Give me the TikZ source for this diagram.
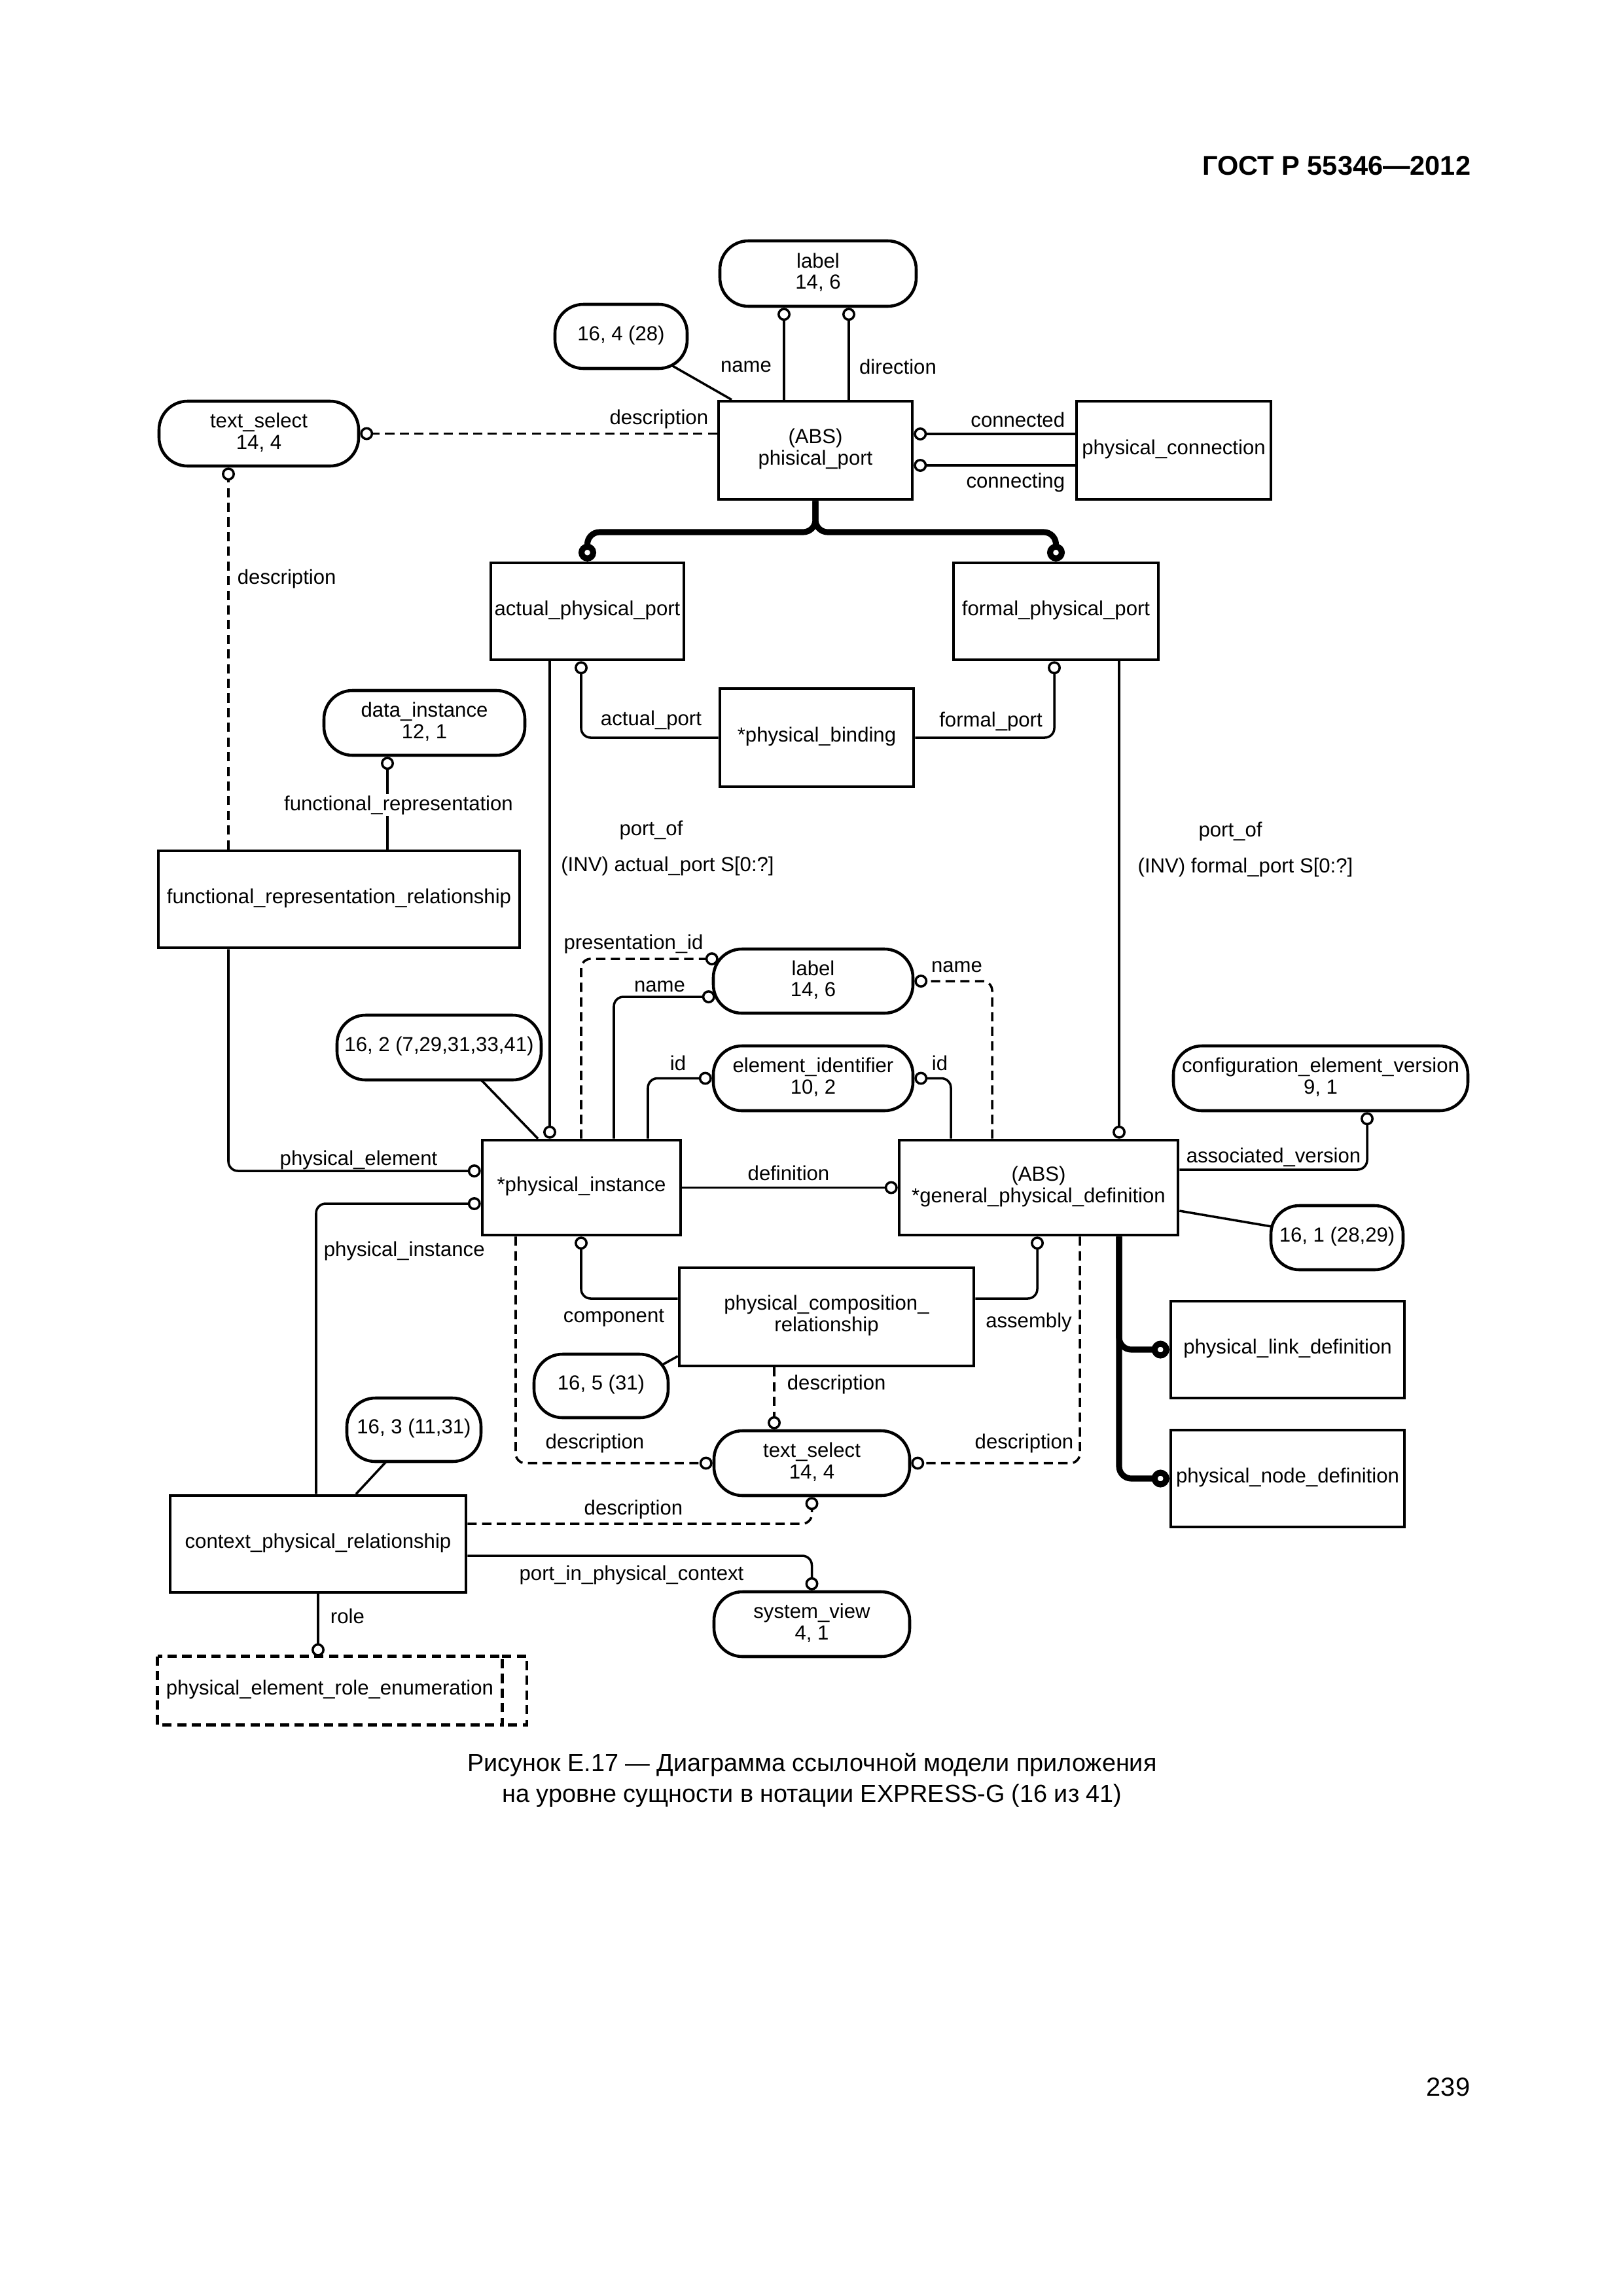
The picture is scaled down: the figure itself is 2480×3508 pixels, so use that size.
\documentclass[tikz,border=0pt]{standalone}
\usepackage{fontspec}
\setmainfont{Liberation Sans}
\usetikzlibrary{arrows.meta,calc,backgrounds,fit}
\newcommand{\dfont}{\fontsize{7.5}{7.9}\selectfont}
\newcommand{\lo}[1]{\raisebox{-2.3pt}[\height][\depth]{#1}}
\begin{document}
\begin{tikzpicture}[x=0.2409pt,y=-0.2409pt,
  ent/.style={draw, line width=1.1pt, fill=white, inner sep=0pt, align=center, font=\dfont},
  rnd/.style={ent, rounded corners=10.5pt},
  lab/.style={font=\dfont, inner sep=0.5pt},
  rel/.style={line width=0.85pt, -{Circle[open,length=4.8pt]}},
  relD/.style={rel, dash pattern=on 3.4pt off 2pt},
  ln/.style={line width=0.85pt},
  sub/.style={line width=2.2pt, -{Circle[open,length=6.5pt]}, rounded corners=4.5pt},
  rcorner/.style={rounded corners=3.5pt},
  dbox/.style={line width=1.1pt, dash pattern=on 3.4pt off 2pt}]
\useasboundingbox (0,0) rectangle (2480,3508);

% ---------- nodes ----------
\node[rnd, fit={(1100,368) (1400,468)}] (lbl1) {\lo{label}\\\lo{14, 6}};
\node[rnd, fit={(848,465) (1050,563)}] (r164) {\lo{16, 4 (28)}};
\node[rnd, fit={(243,613) (548,712)}] (ts1) {\lo{text\_select}\\\lo{14, 4}};
\node[ent, fit={(1098,613) (1394,763)}] (pp) {\lo{(ABS)}\\\lo{phisical\_port}};
\node[ent, fit={(1645,613) (1942,763)}] (pc) {\lo{physical\_connection}};
\node[ent, fit={(750,860) (1045,1008)}] (app) {\lo{actual\_physical\_port}};
\node[ent, fit={(1457,860) (1770,1008)}] (fpp) {\lo{formal\_physical\_port}};
\node[ent, fit={(1100,1052) (1396,1202)}] (pb) {\lo{*physical\_binding}};
\node[rnd, fit={(495,1055) (802,1154)}] (di) {\lo{data\_instance}\\\lo{12, 1}};
\node[ent, fit={(242,1300) (794,1448)}] (frr) {\lo{functional\_representation\_relationship}};
\node[rnd, fit={(1090,1450) (1395,1548)}] (lbl2) {\lo{label}\\\lo{14, 6}};
\node[rnd, fit={(1090,1598) (1395,1697)}] (ei) {\lo{element\_identifier}\\\lo{10, 2}};
\node[rnd, fit={(515,1551) (827,1650)}] (r162) {\lo{16, 2 (7,29,31,33,41)}};
\node[rnd, fit={(1793,1598) (2243,1697)}] (cev) {\lo{configuration\_element\_version}\\\lo{9, 1}};
\node[ent, fit={(737,1742) (1040,1887)}] (pi) {\lo{*physical\_instance}};
\node[ent, fit={(1374,1742) (1800,1887)}] (gpd) {\lo{(ABS)}\\\lo{*general\_physical\_definition}};
\node[rnd, fit={(1942,1842) (2144,1940)}] (r161) {\lo{16, 1 (28,29)}};
\node[ent, fit={(1038,1937) (1488,2087)}] (pcr) {\lo{physical\_composition\_}\\\lo{relationship}};
\node[ent, fit={(1789,1988) (2146,2136)}] (pld) {\lo{physical\_link\_definition}};
\node[ent, fit={(1789,2185) (2146,2333)}] (pnd) {\lo{physical\_node\_definition}};
\node[rnd, fit={(816,2069) (1021,2166)}] (r165) {\lo{16, 5 (31)}};
\node[rnd, fit={(1091,2186) (1390,2285)}] (ts2) {\lo{text\_select}\\\lo{14, 4}};
\node[rnd, fit={(530,2136) (735,2233)}] (r163) {\lo{16, 3 (11,31)}};
\node[ent, fit={(260,2285) (712,2433)}] (cpr) {\lo{context\_physical\_relationship}};
\node[rnd, fit={(1091,2432) (1390,2531)}] (sv) {\lo{system\_view}\\\lo{4, 1}};
\node[ent, draw=none, fit={(243,2533) (765,2633)}] (pere) {\lo{physical\_element\_role\_enumeration}};
\draw[dbox] (pere.north west) rectangle (pere.south east);
\draw[dbox] (pere.north east) -| (805,0 |- pere.south) -- (pere.south east);

% ---------- connectors ----------
\begin{pgfonlayer}{background}
\fill[white] (0,0) rectangle (2480,3508);
\draw[rel] (1198,0 |- pp.north) -- (1198,0 |- lbl1.south);
\draw[rel] (1297,0 |- pp.north) -- (1297,0 |- lbl1.south);
\draw[ln] (r164.center) -- (1118,0 |- pp.north);
\draw[relD] (pp.west |- ts1.east) -- (ts1.east);
\draw[rel] (pc.west |- 0,663) -- (pp.east |- 0,663);
\draw[rel] (pc.west |- 0,711) -- (pp.east |- 0,711);
\draw[sub] (pp.south) |- (app.north |- 0,813) -- (app.north);
\draw[sub] (pp.south) |- (fpp.north |- 0,813) -- (fpp.north);
\draw[relD] (349,0 |- frr.north) -- (349,0 |- ts1.south);
\draw[rel] (592,0 |- frr.north) -- (592,0 |- di.south);
\draw[rel, rcorner] (349,0 |- frr.south) |- (pi.west |- 0,1789);
\draw[rel, rcorner] (483,0 |- cpr.north) |- (pi.west |- 0,1839);
\draw[rel] (840,0 |- app.south) -- (840,0 |- pi.north);
\draw[ln] ($(r162.center)+(29,13)$) -- (822,0 |- pi.north);
\draw[rel, rcorner] (pb.west) -| (888,0 |- app.south);
\draw[rel, rcorner] (pb.east) -| (1611,0 |- fpp.south);
\draw[rel] (1710,0 |- fpp.south) -- (1710,0 |- gpd.north);
\draw[relD, rcorner] (888,0 |- pi.north) |- ($(lbl2.west)+(10,-34)$);
\draw[rel, rcorner] (938,0 |- pi.north) |- ($(lbl2.west)+(5,24)$);
\draw[relD, rcorner] (1516,0 |- gpd.north) |- (lbl2.east);
\draw[rel, rcorner] (990,0 |- pi.north) |- (ei.west);
\draw[rel, rcorner] (1453,0 |- gpd.north) |- (ei.east);
\draw[rel] (pi.east) -- (gpd.west);
\draw[rel, rcorner] (gpd.east |- 0,1787) -| (2089,0 |- cev.south);
\draw[ln] (gpd.east |- 0,1850) -- (r161.center);
\draw[sub] (1710,0 |- gpd.south) |- (pld.west);
\draw[sub] (1710,0 |- gpd.south) |- (pnd.west);
\draw[rel, rcorner] (pcr.west |- 0,1984) -| (888,0 |- pi.south);
\draw[rel, rcorner] (pcr.east |- 0,1984) -| (1585,0 |- gpd.south);
\draw[ln] ($(r165.center)+(32,2)$) -- (pcr.west |- 0,2072);
\draw[relD] (1183,0 |- pcr.south) -- (1183,0 |- ts2.north);
\draw[relD, rcorner] (788,0 |- pi.south) |- (ts2.west);
\draw[relD, rcorner] (1650,0 |- gpd.south) |- (ts2.east);
\draw[relD, rcorner] (cpr.east |- 0,2328) -| (ts2.south);
\draw[rel, rcorner] (cpr.east |- 0,2377) -| (sv.north);
\draw[ln] ($(r163.center)+(-12,16)$) -- (544,0 |- cpr.north);
\draw[rel] (cpr.south) -- (cpr.south |- pere.north);
\end{pgfonlayer}

% ---------- labels ----------
\node[lab] (l1) at (1140,560) {name};
\node[lab] (l2) at (1372,560) {direction};
\node[lab, anchor=east] (l3) at (1085,640) {description};
\node[lab, anchor=east] (l4) at (1630,641) {connected};
\node[lab, anchor=east] (l5) at (1630,737) {connecting};
\node[lab, anchor=west] (l6) at (360,884) {description};
\node[lab, fill=white] (l7) at (609,1230) {functional\_representation};
\node[lab] (l8) at (995,1100) {actual\_port};
\node[lab] (l9) at (1514,1102) {formal\_port};
\node[lab] (l10) at (995,1268) {port\_of};
\node[lab] (l11) at (1020,1323) {(INV) actual\_port S[0:?]};
\node[lab] (l12) at (1880,1270) {port\_of};
\node[lab] (l13) at (1903,1325) {(INV) formal\_port S[0:?]};
\node[lab] (l14) at (968,1442) {presentation\_id};
\node[lab] (l15) at (1008,1507) {name};
\node[lab] (l16) at (1462,1477) {name};
\node[lab] (l17) at (1036,1624) {id};
\node[lab] (l18) at (1436,1624) {id};
\node[lab] (l19) at (548,1772) {physical\_element};
\node[lab] (l20) at (1205,1792) {definition};
\node[lab] (l21) at (1946,1768) {associated\_version};
\node[lab, anchor=west] (l22) at (492,1911) {physical\_instance};
\node[lab] (l23) at (938,2014) {component};
\node[lab] (l24) at (1572,2020) {assembly};
\node[lab, anchor=west] (l25) at (1200,2115) {description};
\node[lab] (l26) at (909,2205) {description};
\node[lab] (l27) at (1565,2205) {description};
\node[lab] (l28) at (968,2306) {description};
\node[lab] (l29) at (965,2406) {port\_in\_physical\_context};
\node[lab, anchor=west] (l30) at (502,2469) {role};

% ---------- page texts ----------
\node[anchor=east, inner sep=0pt, font=\bfseries\fontsize{10}{12}\selectfont] (hdr) at (2248,253) {ГОСТ Р 55346—2012};
\node[align=center, inner sep=0pt, font=\fontsize{9.1}{11.3}\selectfont] (cap) at (1241,2720) {Рисунок Е.17 — Диаграмма ссылочной модели приложения\\на уровне сущности в нотации EXPRESS-G (16 из 41)};
\node[anchor=east, inner sep=0pt, font=\fontsize{9.6}{11}\selectfont] (pg) at (2247,3189) {239};
\end{tikzpicture}
\end{document}
